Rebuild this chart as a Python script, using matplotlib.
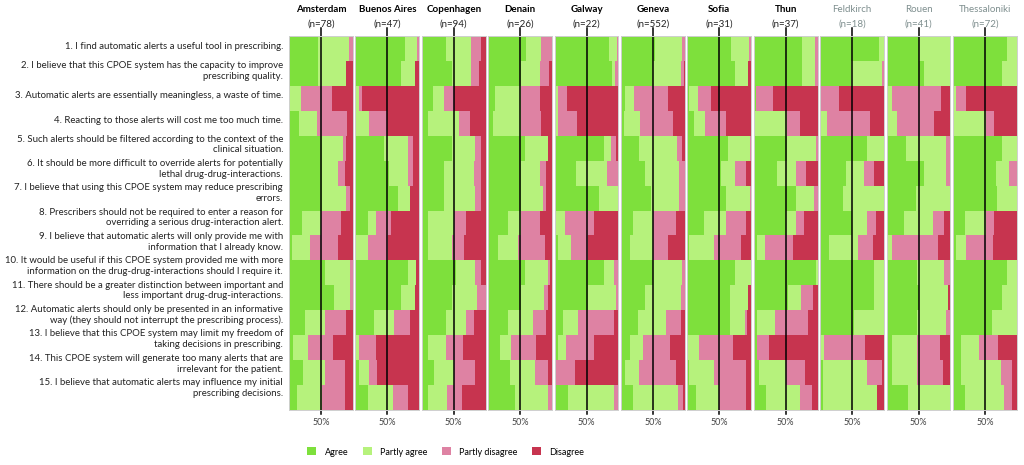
import matplotlib
matplotlib.use("Agg")
import matplotlib.pyplot as plt
import matplotlib.transforms as mtransforms
from matplotlib.patches import Patch

plt.rcParams['font.family'] = ['Lato', 'DejaVu Sans']

cities = ["Amsterdam", "Buenos Aires", "Copenhagen", "Denain", "Galway", "Geneva",
          "Sofia", "Thun", "Feldkirch", "Rouen", "Thessaloniki"]
n_resp = [78, 47, 94, 26, 22, 552, 31, 37, 18, 41, 72]

questions = [
    "1. I find automatic alerts a useful tool in prescribing.",
    "2. I believe that this CPOE system has the capacity to improve\nprescribing quality.",
    "3. Automatic alerts are essentially meaningless, a waste of time.",
    "4. Reacting to those alerts will cost me too much time.",
    "5. Such alerts should be filtered according to the context of the\nclinical situation.",
    "6. It should be more difficult to override alerts for potentially\nlethal drug-drug-interactions.",
    "7. I believe that using this CPOE system may reduce prescribing\nerrors.",
    "8. Prescribers should not be required to enter a reason for\noverriding a serious drug-interaction alert.",
    "9. I believe that automatic alerts will only provide me with\ninformation that I already know.",
    "10. It would be useful if this CPOE system provided me with more\ninformation on the drug-drug-interactions should I require it.",
    "11. There should be a greater distinction between important and\nless important drug-drug-interactions.",
    "12. Automatic alerts should only be presented in an informative\nway (they should not interrupt the prescribing process).",
    "13. I believe that this CPOE system may limit my freedom of\ntaking decisions in prescribing.",
    "14. This CPOE system will generate too many alerts that are\nirrelevant for the patient.",
    "15. I believe that automatic alerts may influence my initial\nprescribing decisions.",
]

# percentages per city (rows) and question 1..15 (columns)
agree = [
    [46, 46, 0, 15, 51, 51, 51, 20, 4, 56, 71, 25, 7, 22, 12],
    [77, 72, 0, 0, 45, 53, 66, 19, 0, 82, 72, 29, 0, 5, 19],
    [38, 48, 17, 9, 48, 35, 35, 9, 9, 53, 48, 38, 9, 19, 9],
    [60, 52, 10, 8, 57, 52, 52, 31, 16, 57, 52, 31, 18, 34, 42],
    [85, 90, 2, 0, 77, 34, 69, 3, 5, 77, 53, 13, 5, 0, 21],
    [53, 50, 6, 4, 29, 37, 47, 19, 14, 50, 37, 27, 14, 6, 19],
    [68, 74, 2, 10, 63, 53, 61, 26, 3, 74, 66, 66, 0, 3, 13],
    [76, 76, 3, 2, 52, 37, 66, 50, 5, 98, 53, 5, 5, 8, 19],
    [92, 49, 0, 0, 73, 40, 35, 50, 14, 84, 84, 53, 0, 4, 4],
    [51, 59, 0, 0, 30, 59, 46, 27, 0, 48, 51, 48, 9, 9, 33],
    [85, 77, 0, 0, 77, 67, 69, 19, 4, 85, 77, 61, 12, 12, 19],
]
partly_agree = [
    [48, 44, 19, 29, 34, 26, 39, 30, 29, 39, 24, 31, 23, 34, 39],
    [19, 21, 5, 21, 37, 29, 19, 13, 19, 13, 21, 32, 5, 16, 40],
    [39, 29, 18, 49, 36, 47, 49, 42, 39, 31, 39, 31, 29, 31, 31],
    [23, 29, 42, 44, 36, 29, 34, 21, 31, 37, 36, 39, 18, 39, 52],
    [13, 5, 3, 5, 11, 48, 31, 13, 21, 16, 43, 24, 13, 0, 72],
    [42, 44, 15, 26, 59, 54, 44, 31, 36, 46, 57, 44, 21, 23, 70],
    [29, 21, 14, 18, 35, 21, 37, 34, 39, 26, 29, 24, 18, 39, 37],
    [20, 20, 0, 50, 46, 29, 29, 16, 13, 2, 21, 29, 0, 43, 53],
    [8, 48, 0, 11, 27, 28, 65, 23, 46, 16, 16, 47, 6, 70, 85],
    [49, 41, 9, 17, 63, 34, 54, 45, 9, 42, 45, 45, 39, 39, 67],
    [15, 23, 5, 51, 23, 21, 31, 32, 16, 15, 23, 39, 29, 63, 61],
]
partly_disagree = [
    [6, 0, 48, 47, 5, 10, 5, 32, 44, 5, 5, 34, 39, 31, 36],
    [4, 0, 6, 29, 8, 8, 0, 24, 32, 0, 0, 24, 27, 13, 24],
    [16, 13, 16, 18, 8, 10, 8, 18, 18, 8, 13, 13, 26, 34, 23],
    [17, 15, 29, 31, 0, 10, 4, 29, 42, 3, 6, 21, 39, 21, 6],
    [2, 5, 15, 30, 8, 18, 0, 45, 27, 7, 4, 56, 43, 32, 7],
    [5, 4, 52, 51, 8, 9, 9, 36, 23, 4, 6, 23, 41, 57, 8],
    [3, 0, 21, 32, 2, 18, 2, 32, 42, 0, 0, 3, 53, 50, 42],
    [4, 4, 27, 21, 2, 16, 5, 13, 43, 0, 19, 51, 19, 29, 19],
    [0, 3, 30, 67, 0, 16, 0, 15, 23, 0, 0, 0, 64, 23, 0],
    [0, 0, 76, 58, 7, 7, 0, 18, 71, 10, 0, 7, 35, 40, 0],
    [0, 0, 15, 13, 0, 12, 0, 13, 42, 0, 0, 0, 29, 18, 13],
]
disagree = [
    [0, 10, 33, 9, 10, 13, 5, 18, 23, 0, 0, 10, 31, 13, 13],
    [0, 7, 89, 50, 10, 10, 15, 44, 49, 5, 7, 15, 68, 66, 17],
    [7, 10, 49, 24, 8, 8, 8, 31, 34, 8, 0, 18, 36, 16, 37],
    [0, 4, 19, 17, 7, 9, 10, 19, 11, 3, 6, 9, 25, 6, 0],
    [0, 0, 80, 65, 4, 0, 0, 39, 47, 0, 0, 7, 39, 68, 0],
    [0, 2, 27, 19, 4, 0, 0, 14, 27, 0, 0, 6, 24, 14, 3],
    [0, 5, 63, 40, 0, 8, 0, 8, 16, 0, 5, 7, 29, 8, 8],
    [0, 0, 70, 27, 0, 18, 0, 21, 39, 0, 7, 15, 76, 20, 9],
    [0, 0, 70, 22, 0, 16, 0, 12, 17, 0, 0, 0, 30, 3, 11],
    [0, 0, 15, 25, 0, 0, 0, 10, 20, 0, 4, 0, 17, 12, 0],
    [0, 0, 80, 36, 0, 0, 0, 36, 38, 0, 0, 0, 30, 7, 7],
]

categories = ["Agree", "Partly agree", "Partly disagree", "Disagree"]
colors = ["#7ee03c", "#b6f27c", "#de82a3", "#c7344f"]
n_bold = 8  # the first eight site titles are bold black, the rest grey

fig = plt.figure(figsize=(10.24, 4.65), dpi=100)
axes = fig.subplots(1, len(cities), sharey=True)
fig.subplots_adjust(left=0.2822, right=0.993, top=0.9226, bottom=0.1183, wspace=0.04)

rows = list(range(len(questions)))
for k, ax in enumerate(axes):
    left = [0] * len(rows)
    for series, col in zip([agree, partly_agree, partly_disagree, disagree], colors):
        vals = series[k]
        ax.barh(rows, vals, left=left, height=1.0, color=col, linewidth=0)
        left = [a + b for a, b in zip(left, vals)]
    ax.set_xlim(0, 100)
    ax.set_ylim(len(rows) - 0.5, -0.5)
    ax.axvline(50, ymin=-0.01, ymax=1.021, color="black", lw=1.1, clip_on=False)
    ax.set_xticks([50])
    ax.set_xticklabels(["50%"], fontsize=6.5, color="#444444")
    ax.tick_params(axis="x", length=0, pad=6)
    ax.tick_params(axis="y", length=0, labelleft=False)
    for sp in ax.spines.values():
        sp.set_color("#cfcfcf")
        sp.set_linewidth(0.7)

    if k < n_bold:
        ax.text(0.5, 1.07, cities[k], transform=ax.transAxes, ha="center", va="center",
                fontsize=7, fontweight="bold", color="black")
        ax.text(0.5, 1.033, f"(n={n_resp[k]})", transform=ax.transAxes, ha="center",
                va="center", fontsize=7, color="#222222")
    else:
        ax.text(0.5, 1.07, cities[k], transform=ax.transAxes, ha="center", va="center",
                fontsize=7, color="#7f8f8f")
        ax.text(0.5, 1.033, f"(n={n_resp[k]})", transform=ax.transAxes, ha="center",
                va="center", fontsize=7, color="#7f8f8f")

# question labels to the left of the first panel
trans = mtransforms.blended_transform_factory(fig.transFigure, axes[0].transData)
for i, q in enumerate(questions):
    axes[0].text(0.2764, i - 0.06 - 0.023 * i, q, transform=trans, ha="right", va="center",
                 fontsize=6.9, linespacing=1.25, color="#222222")

handles = [Patch(facecolor=c, edgecolor="none") for c in colors]
fig.legend(handles, categories, loc="center", bbox_to_anchor=(0.435, 0.028), ncol=4,
           frameon=False, fontsize=6.5, handlelength=1.0, handleheight=1.0,
           columnspacing=1.6, handletextpad=0.9)

fig.savefig("out.png", dpi=100)
